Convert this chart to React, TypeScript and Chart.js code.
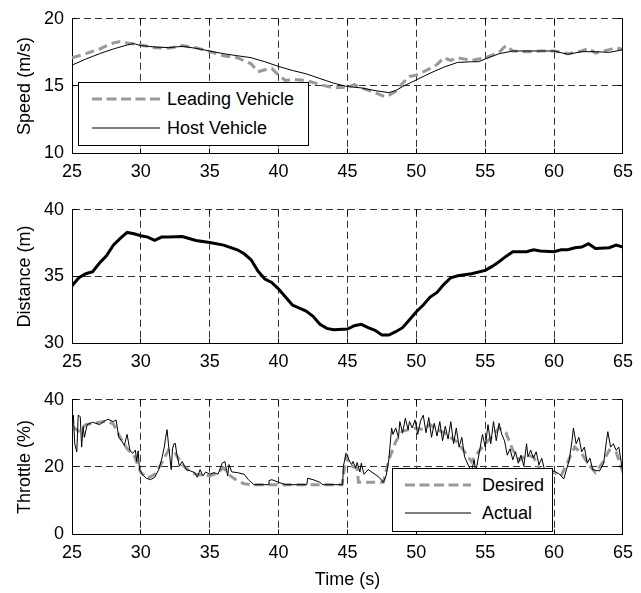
import React, { useEffect, useRef } from "react";
import { Chart, registerables } from "chart.js";

Chart.register(...registerables);

const FONT_FAMILY = "'Liberation Sans', Arial, Helvetica, sans-serif";
const GREY = "#999999";
const GRID = "#333333";

// ---------- Speed panel ----------
const leadTime = [25, 26, 27, 28, 28.5, 29, 30, 31, 32, 33, 34, 35, 36, 37, 38, 38.5, 39, 39.5, 40, 40.5, 41, 42, 43, 44, 45, 45.5, 46, 47, 47.7, 48, 48.5, 49, 49.5, 50, 50.5, 51, 51.5, 52, 52.5, 53, 54, 55, 56, 56.5, 57, 58, 59, 60, 61, 62, 62.5, 63, 64, 64.5, 65];
const leadSpeed = [17.1, 17.4, 17.75, 18.2, 18.3, 18.2, 18.05, 17.85, 17.8, 18.0, 17.85, 17.55, 17.25, 17.1, 16.65, 16.05, 16.2, 16.3, 15.8, 15.4, 15.5, 15.4, 15.1, 14.85, 14.9, 15.1, 14.85, 14.5, 14.2, 14.3, 14.6, 15.2, 15.7, 15.8, 16.05, 16.3, 16.6, 17.1, 16.9, 17.1, 16.9, 17.1, 17.5, 18.0, 17.6, 17.55, 17.6, 17.6, 17.4, 17.6, 17.8, 17.45, 17.7, 17.85, 17.7];
const hostTime = [25, 26, 27, 28, 29, 29.5, 30, 31, 32, 33, 34, 35, 36, 37, 38, 39, 40, 41, 42, 43, 44, 45, 46, 47, 48, 48.5, 49, 50, 51, 52, 53, 54, 54.5, 55, 56, 57, 58, 59, 60, 61, 62, 63, 64, 65];
const hostSpeed = [16.55, 17.0, 17.4, 17.75, 18.05, 18.15, 18.0, 17.9, 17.85, 17.95, 17.8, 17.6, 17.4, 17.25, 17.1, 16.8, 16.45, 16.15, 15.9, 15.55, 15.2, 14.95, 14.85, 14.65, 14.5, 14.65, 14.95, 15.45, 15.95, 16.4, 16.75, 16.8, 16.8, 17.0, 17.4, 17.6, 17.6, 17.6, 17.6, 17.35, 17.55, 17.55, 17.5, 17.7];

// ---------- Distance panel ----------
const distTime = [25, 25.5, 26, 26.5, 27, 27.5, 28, 28.5, 29, 29.5, 30, 30.5, 31, 31.5, 32, 33, 33.5, 34, 35, 36, 37, 37.5, 38, 38.5, 39, 39.5, 40, 40.5, 41, 42, 42.5, 43, 43.5, 44, 45, 45.5, 46, 46.5, 47, 47.5, 48, 48.5, 49, 49.5, 50, 50.5, 51, 51.5, 52, 52.5, 53, 54, 55, 55.5, 56, 56.5, 57, 58, 58.5, 59, 60, 60.5, 61, 61.5, 62, 62.5, 63, 64, 64.5, 65];
const distance = [34.3, 34.9, 35.2, 35.35, 36.0, 36.55, 37.35, 37.85, 38.3, 38.2, 38.05, 37.95, 37.7, 37.95, 37.95, 38.0, 37.85, 37.7, 37.55, 37.35, 37.0, 36.7, 36.25, 35.4, 34.8, 34.55, 34.05, 33.45, 32.85, 32.4, 32.0, 31.4, 31.1, 31.0, 31.05, 31.3, 31.4, 31.15, 30.95, 30.6, 30.6, 30.85, 31.15, 31.75, 32.35, 32.85, 33.45, 33.8, 34.4, 34.9, 35.05, 35.2, 35.45, 35.75, 36.1, 36.5, 36.85, 36.85, 37.0, 36.9, 36.85, 37.0, 37.0, 37.15, 37.2, 37.45, 37.1, 37.15, 37.35, 37.2];

// ---------- Throttle panel ----------
const desiredTime = [25, 25.5, 26, 27, 27.5, 28, 28.5, 29, 29.5, 30, 30.5, 31, 31.5, 32, 32.5, 33, 33.5, 34, 35, 35.5, 36, 36.5, 37, 37.5, 38, 44.6, 44.9, 45.2, 45.7, 45.8, 47.6, 48, 48.5, 49, 50, 50.5, 51, 51.5, 52, 53, 53.5, 54, 54.5, 55, 55.5, 56, 56.5, 57, 57.5, 58, 58.5, 59, 59.5, 60, 60.5, 61, 61.5, 62, 62.5, 63, 63.5, 64, 64.5, 65];
const desiredThrottle = [32, 30.7, 32.6, 33.3, 33.7, 32.8, 28.8, 25.4, 23.5, 18.3, 16.6, 17.8, 21.1, 25, 24, 20.7, 18.8, 17.8, 17.3, 18.1, 19.7, 17.3, 15.9, 15, 14.7, 14.7, 23, 20.5, 19.5, 15.4, 15.4, 22.1, 27.5, 30.7, 31.6, 31.1, 32.6, 31.1, 30.2, 27.3, 24.5, 21.6, 24.5, 26.9, 29.2, 31.6, 30.2, 25, 22.1, 23.5, 23, 18.8, 18.3, 18.3, 17.3, 21.6, 25.9, 24, 20.7, 18.3, 21.1, 25, 24.5, 18.3];
const actualTime = [
  25.0, 25.1, 25.2, 25.35, 25.45, 25.6, 25.7, 25.8, 25.9, 26.1,
  26.5, 27, 27.3, 27.6, 28, 28.2, 28.4, 28.6, 28.8, 29,
  29.2, 29.4, 29.6, 29.7, 29.8, 29.9, 30.1, 30.4, 30.7, 31,
  31.3, 31.5, 31.7, 31.8, 31.9, 32.0, 32.2, 32.3, 32.4, 32.5,
  32.6, 32.8, 33, 33.3, 33.6, 33.9, 34.1, 34.3, 34.5, 34.7,
  35, 35.3, 35.6, 35.9, 36.1, 36.3, 36.4, 36.6, 37, 37.5,
  37.8, 38.2, 39.25, 39.3, 39.5, 40, 40.5, 42.05, 42.1, 42.5,
  43, 43.2, 44.65, 44.7, 44.9, 45.0, 45.1, 45.3, 45.4, 45.6,
  45.7, 45.9, 46.0, 46.2, 46.5, 47, 47.3, 47.6, 47.8, 48.0,
  48.2, 48.3, 48.5, 48.7, 48.8, 49, 49.2, 49.4, 49.5, 49.7,
  49.9, 50.1, 50.3, 50.5, 50.7, 50.9, 51.1, 51.3, 51.5, 51.7,
  51.9, 52.1, 52.3, 52.5, 52.7, 52.9, 53.1, 53.3, 53.5, 53.8,
  54.0, 54.2, 54.3, 54.6, 54.8, 55.0, 55.2, 55.4, 55.6, 55.8,
  56.0, 56.2, 56.4, 56.6, 56.8, 57.0, 57.2, 57.4, 57.6, 57.8,
  58.0, 58.1, 58.3, 58.5, 58.7, 58.9, 59.1, 59.3, 59.6, 60,
  60.4, 60.7, 60.9, 61.1, 61.3, 61.4, 61.6, 61.8, 62.0, 62.2,
  62.4, 62.6, 62.8, 63.0, 63.3, 63.6, 63.8, 63.9, 64.1, 64.3,
  64.5, 64.7, 64.9, 65.0,
];
const actualThrottle = [
  31, 35.4, 26.9, 24.5, 35.4, 35, 25.9, 32, 28.8, 32.6,
  33.3, 32.6, 33.5, 34.2, 33.5, 34, 28.8, 27.8, 26.4, 29.7,
  25, 24, 25, 21.6, 24.8, 19.2, 17.8, 16.6, 16.2, 16.9,
  19.2, 22.1, 25.9, 28.8, 31.1, 26.9, 19.2, 25.4, 26.9, 27,
  24, 20.2, 21.6, 19.2, 18.8, 18.3, 16.9, 19.2, 17.3, 18.5,
  17.8, 18.3, 17.8, 21.1, 21.6, 17.3, 20.7, 18.5, 18.3, 17.8,
  16.2, 14.7, 14.7, 15.9, 16.2, 15.4, 14.7, 14.7, 16.6, 16.2,
  15.4, 14.7, 14.7, 20.2, 24, 23.5, 22.1, 20.7, 21.6, 19.7,
  21.3, 18.5, 21.1, 17.8, 19.2, 17.8, 16.9, 15.4, 17.3, 22.1,
  31.6, 29.7, 31.6, 28.8, 33.5, 30.2, 34.5, 31.1, 33.5, 31.6,
  34, 29.7, 33.7, 35.4, 30.2, 34.7, 28.8, 33, 29.2, 33.5,
  27.8, 32.1, 28.3, 33.5, 26.9, 31.6, 25.9, 28.8, 23, 20.2,
  18.8, 22.1, 18.3, 25, 29.7, 25.9, 32.6, 26.9, 33.5, 27.8,
  33, 29.7, 27.8, 23.5, 25.4, 22.1, 24.5, 21.1, 23.5, 20.2,
  26.9, 23, 25, 22.6, 24.5, 20.6, 22.6, 19.2, 18.3, 18.8,
  17.8, 16.4, 19.2, 22.1, 27.8, 31.6, 26.9, 28.8, 24.5, 25.9,
  21.1, 22.6, 19.2, 19, 18.8, 21.1, 27.8, 30.5, 25.9, 26.9,
  25, 25.9, 20.6, 18.3,
];

const X_MIN = 25;
const X_MAX = 65;
const X_STEP = 5;

function xy(t: number[], v: number[]) {
  return t.map((x, i) => ({ x, y: v[i] }));
}

const DASHED = { borderColor: GREY, borderWidth: 3, borderDash: [9, 5] };
const THIN = { borderColor: "#000", borderWidth: 1 };

function align(p: number) {
  return Math.round(p - 0.5) + 0.5;
}

const framePlugin = {
  id: "frame",
  afterDraw(chart: any) {
    const { ctx, chartArea: a, scales } = chart;
    ctx.save();
    ctx.strokeStyle = "#000";
    ctx.lineWidth = 1;
    ctx.setLineDash([]);
    const r = align(a.right);
    const l = align(a.left);
    const t = align(a.top);
    const b = align(a.bottom);
    ctx.beginPath();
    ctx.moveTo(r, a.top);
    ctx.lineTo(r, a.bottom);
    const L = 5;
    scales.x.ticks.forEach((tk: any) => {
      const px = align(scales.x.getPixelForValue(tk.value));
      ctx.moveTo(px, b);
      ctx.lineTo(px, b - L);
      ctx.moveTo(px, t);
      ctx.lineTo(px, t + L);
    });
    scales.y.ticks.forEach((tk: any) => {
      const py = align(scales.y.getPixelForValue(tk.value));
      ctx.moveTo(l, py);
      ctx.lineTo(l + L, py);
      ctx.moveTo(r, py);
      ctx.lineTo(r - L, py);
    });
    ctx.stroke();
    ctx.restore();
  },
};

type PanelProps = {
  top: number;
  height: number;
  xAxisHeight: number;
  yMin: number;
  yMax: number;
  yStep: number;
  yTitle: string;
  xTitle?: string;
  datasets: any[];
};

function Panel(p: PanelProps) {
  const ref = useRef<HTMLCanvasElement>(null);
  useEffect(() => {
    const font = { family: FONT_FAMILY, size: 18 };
    const chart = new Chart(ref.current as HTMLCanvasElement, {
      type: "line",
      data: { datasets: p.datasets },
      options: {
        animation: false,
        responsive: false,
        maintainAspectRatio: false,
        layout: { padding: { top: 14, right: 12, left: 0, bottom: 0 } },
        elements: { point: { radius: 0 }, line: { tension: 0 } },
        plugins: { legend: { display: false }, tooltip: { enabled: false } },
        scales: {
          x: {
            type: "linear",
            min: X_MIN,
            max: X_MAX,
            ticks: { stepSize: X_STEP, font, color: "#000", padding: 8, maxRotation: 0, autoSkip: false },
            grid: { color: GRID, lineWidth: 1, drawTicks: false },
            border: { display: true, color: "#000", width: 1, dash: [7, 4] },
            title: {
              display: !!p.xTitle,
              text: p.xTitle || "",
              font,
              color: "#000",
              padding: { top: 0, bottom: 2 },
            },
            afterFit: (s: any) => {
              s.height = p.xAxisHeight;
            },
          },
          y: {
            type: "linear",
            min: p.yMin,
            max: p.yMax,
            ticks: { stepSize: p.yStep, font, color: "#000", padding: 8 },
            grid: { color: GRID, lineWidth: 1, drawTicks: false },
            border: { display: true, color: "#000", width: 1, dash: [7, 4] },
            title: {
              display: true,
              text: p.yTitle,
              font,
              color: "#000",
              padding: { top: 14, bottom: 0 },
            },
            afterFit: (s: any) => {
              s.width = 72;
            },
          },
        },
      } as any,
      plugins: [framePlugin],
    });
    return () => chart.destroy();
  }, []);
  return (
    <canvas
      ref={ref}
      width={641}
      height={p.height}
      style={{ position: "absolute", left: 0, top: p.top, width: 641, height: p.height }}
    />
  );
}

type LegendItem = { label: string; dashed: boolean; y: number };

function LegendBox(props: {
  left: number;
  top: number;
  width: number;
  height: number;
  sampleX1: number;
  sampleX2: number;
  textX: number;
  items: LegendItem[];
}) {
  const { left, top, width, height, sampleX1, sampleX2, textX, items } = props;
  return (
    <div
      style={{
        position: "absolute",
        left,
        top,
        width,
        height,
        boxSizing: "border-box",
        border: "1px solid #000",
        background: "#fff",
        zIndex: 2,
      }}
    >
      <svg width={width} height={height} style={{ position: "absolute", left: -1, top: -1 }}>
        {items.map((it, i) => (
          <line
            key={i}
            x1={sampleX1 - left}
            x2={sampleX2 - left}
            y1={it.y - top}
            y2={it.y - top}
            stroke={it.dashed ? GREY : "#000"}
            strokeWidth={it.dashed ? 3 : 1}
            strokeDasharray={it.dashed ? "10 4.5" : undefined}
          />
        ))}
      </svg>
      {items.map((it, i) => (
        <div
          key={"t" + i}
          style={{
            position: "absolute",
            left: textX - left - 1,
            top: it.y - top - 11,
            height: 20,
            lineHeight: "20px",
            fontFamily: FONT_FAMILY,
            fontSize: 18,
            color: "#000",
            whiteSpace: "nowrap",
          }}
        >
          {it.label}
        </div>
      ))}
    </div>
  );
}

export default function App() {
  const speedSets = [
    { label: "Leading Vehicle", data: xy(leadTime, leadSpeed), ...DASHED, order: 1 },
    { label: "Host Vehicle", data: xy(hostTime, hostSpeed), ...THIN, order: 0 },
  ];
  const distSets = [{ label: "Distance", data: xy(distTime, distance), borderColor: "#000", borderWidth: 3, order: 0 }];
  const throttleSets = [
    { label: "Desired", data: xy(desiredTime, desiredThrottle), ...DASHED, order: 1 },
    { label: "Actual", data: xy(actualTime, actualThrottle), ...THIN, order: 0 },
  ];
  return (
    <div style={{ position: "absolute", left: 0, top: 0, width: 641, height: 593, background: "#fff" }}>
      <Panel top={0} height={191} xAxisHeight={38} yMin={10} yMax={20} yStep={5} yTitle="Speed (m/s)" datasets={speedSets} />
      <Panel top={191} height={190} xAxisHeight={38} yMin={30} yMax={40} yStep={5} yTitle="Distance (m)" datasets={distSets} />
      <Panel
        top={381}
        height={212}
        xAxisHeight={59}
        yMin={0}
        yMax={40}
        yStep={20}
        yTitle="Throttle (%)"
        xTitle="Time (s)"
        datasets={throttleSets}
      />
      <LegendBox
        left={78}
        top={82}
        width={231}
        height={64}
        sampleX1={92}
        sampleX2={160}
        textX={167}
        items={[
          { label: "Leading Vehicle", dashed: true, y: 99 },
          { label: "Host Vehicle", dashed: false, y: 128 },
        ]}
      />
      <LegendBox
        left={392}
        top={468}
        width={161}
        height={64}
        sampleX1={405}
        sampleX2={471}
        textX={482}
        items={[
          { label: "Desired", dashed: true, y: 485 },
          { label: "Actual", dashed: false, y: 513 },
        ]}
      />
    </div>
  );
}
